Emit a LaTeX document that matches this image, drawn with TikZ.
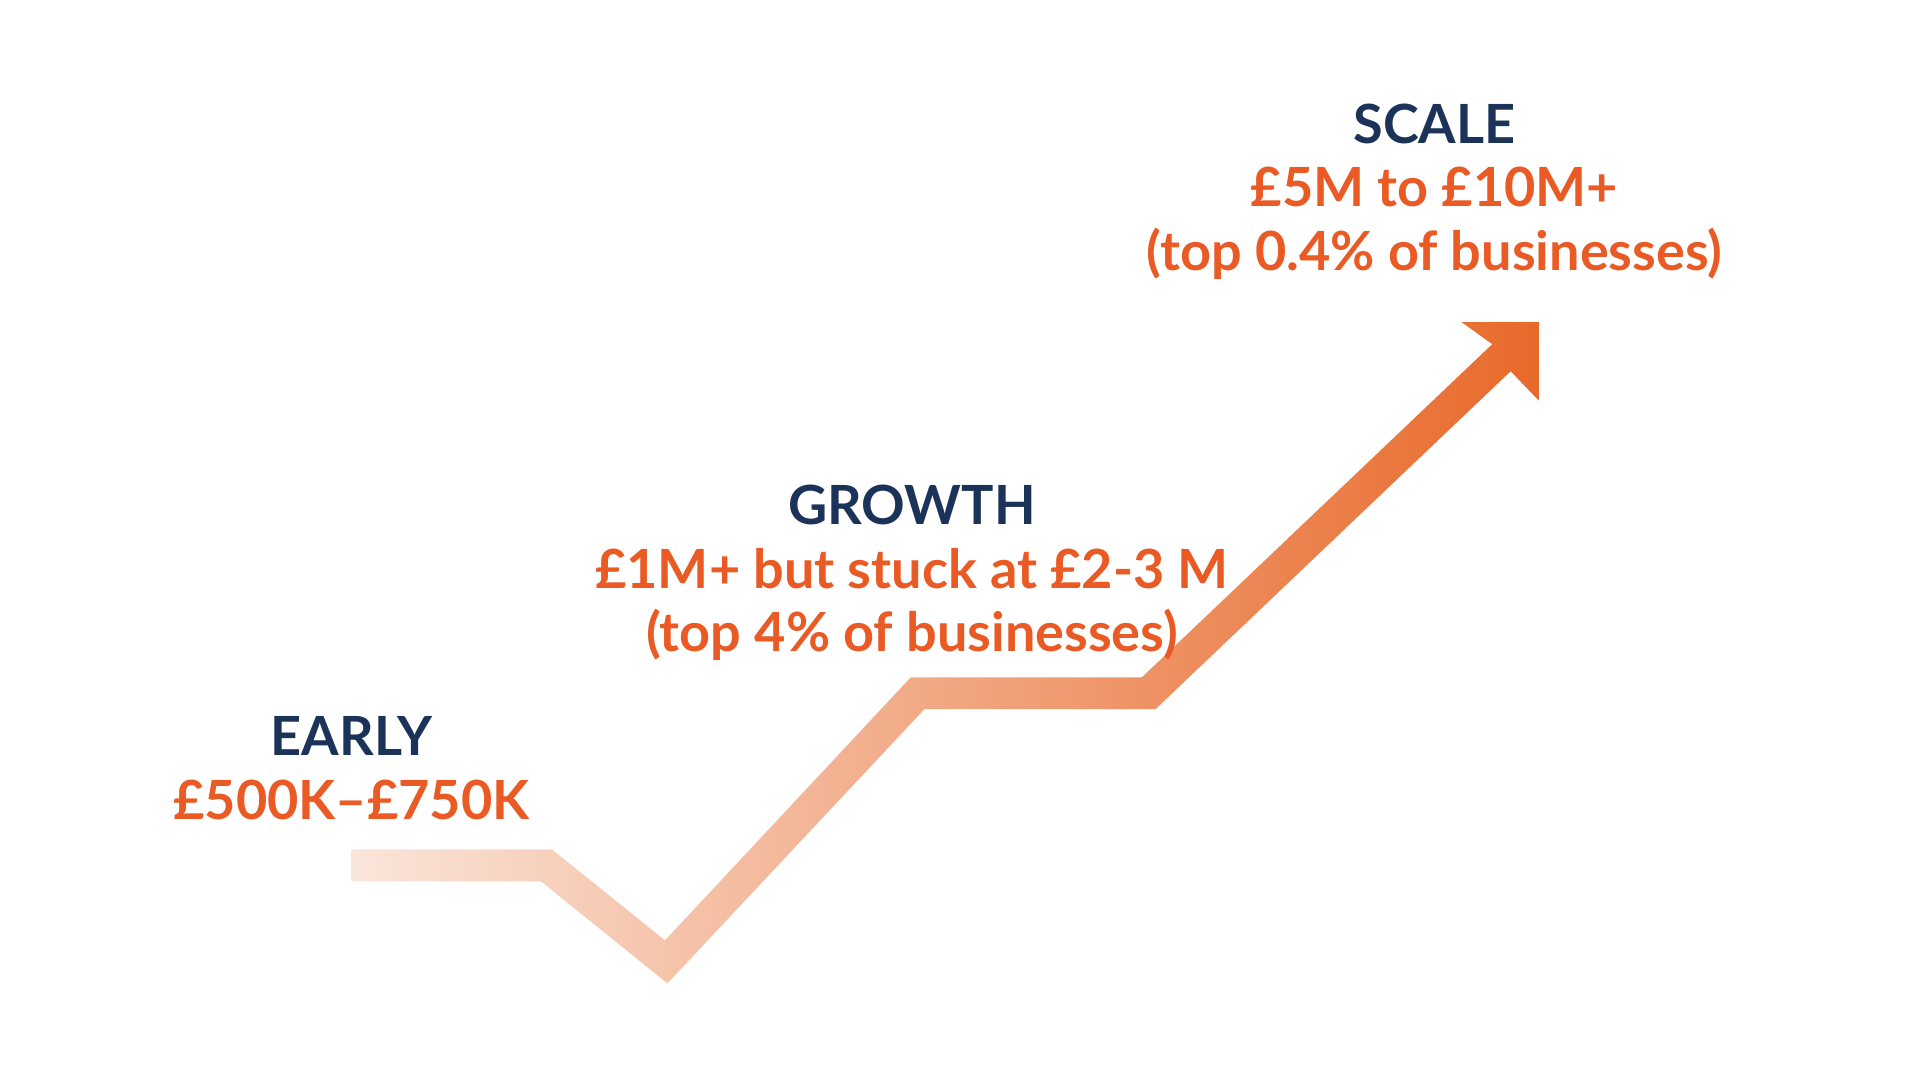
\documentclass[tikz,border=0pt]{standalone}
\usepackage{fontspec}
\setmainfont{Lato}
\definecolor{navy}{HTML}{1B3358}
\definecolor{orng}{HTML}{E95A24}
\definecolor{light}{HTML}{FAE5DA}
\definecolor{dark}{HTML}{E8692A}
\begin{document}
\begin{tikzpicture}[x=0.01cm,y=-0.01cm,
  lab/.style={align=center,font=\bfseries\fontsize{12.5}{12.3}\selectfont,inner sep=0pt}]
\useasboundingbox (0,0) rectangle (1562,879);
\shade[left color=light,right color=dark,shading angle=90]
 (286,691) -- (449,691) -- (541,765) -- (741,551) -- (929,551) -- (1214,280)
 -- (1189,262) -- (1252,262) -- (1252,326) -- (1229,302) -- (940,577) -- (752,577)
 -- (543,800) -- (440,717) -- (286,717) -- cycle;
\node[lab] (scale) at (1167,156) {\textcolor{navy}{SCALE}\\[0.2em]\textcolor{orng}{£5M to £10M+}\\[0.2em]\textcolor{orng}{(top 0.4\% of businesses)}};
\node[lab] (growth) at (742,466) {\textcolor{navy}{GROWTH}\\[0.2em]\textcolor{orng}{£1M+ but stuck at £2-3 M}\\[0.2em]\textcolor{orng}{(top 4\% of businesses)}};
\node[lab] (early) at (286,625) {\textcolor{navy}{EARLY}\\[0.2em]\textcolor{orng}{£500K–£750K}};
\end{tikzpicture}
\end{document}
